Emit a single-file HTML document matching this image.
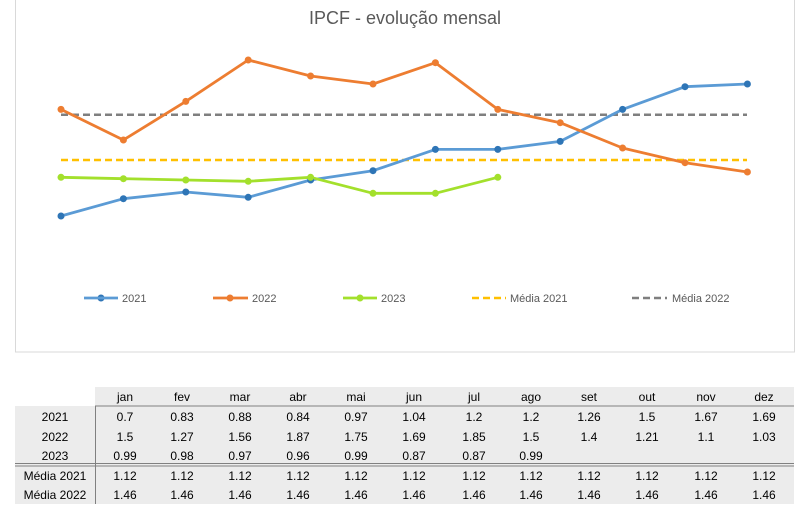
<!DOCTYPE html>
<html><head><meta charset="utf-8"><style>
body{margin:0;background:#fff;width:807px;height:514px;overflow:hidden;font-family:"Liberation Sans",sans-serif;}
</style></head><body>
<svg width="807" height="514" xmlns="http://www.w3.org/2000/svg" style="position:absolute;left:0;top:0">
<rect x="15.5" y="-1" width="779" height="353" fill="#fff" stroke="#d9d9d9"/>
<text x="405" y="24" text-anchor="middle" font-size="18" fill="#595959" font-family="Liberation Sans,sans-serif">IPCF - evolução mensal</text>
<line x1="61" y1="114.7" x2="747" y2="114.7" stroke="#7f7f7f" stroke-width="2.5" stroke-dasharray="7,4"/>
<line x1="61" y1="160" x2="747" y2="160" stroke="#ffc000" stroke-width="2.5" stroke-dasharray="7,4"/>
<g fill="none" stroke-width="2.8" stroke-linejoin="round">
<polyline stroke="#5b9bd5" points="61,216 123.4,198.7 185.8,192 248.2,197.3 310.6,180 373,170.7 435.4,149.4 497.8,149.4 560.2,141.4 622.6,109.4 685,86.7 747.4,84"/>
<polyline stroke="#ed7d31" points="61,109.4 123.4,140 185.8,101.4 248.2,60 310.6,76 373,84 435.4,62.7 497.8,109.4 560.2,122.7 622.6,148 685,162.7 747.4,172"/>
<polyline stroke="#a3e02c" points="61,177.3 123.4,178.7 185.8,180 248.2,181.3 310.6,177.3 373,193.3 435.4,193.3 497.8,177.3"/>
</g>
<g fill="#2e75b6"><circle cx="61" cy="216" r="3.5"/><circle cx="123.4" cy="198.7" r="3.5"/><circle cx="185.8" cy="192" r="3.5"/><circle cx="248.2" cy="197.3" r="3.5"/><circle cx="310.6" cy="180" r="3.5"/><circle cx="373" cy="170.7" r="3.5"/><circle cx="435.4" cy="149.4" r="3.5"/><circle cx="497.8" cy="149.4" r="3.5"/><circle cx="560.2" cy="141.4" r="3.5"/><circle cx="622.6" cy="109.4" r="3.5"/><circle cx="685" cy="86.7" r="3.5"/><circle cx="747.4" cy="84" r="3.5"/><circle cx="101" cy="298" r="3.5"/></g>
<g fill="#ed7d31"><circle cx="61" cy="109.4" r="3.5"/><circle cx="123.4" cy="140" r="3.5"/><circle cx="185.8" cy="101.4" r="3.5"/><circle cx="248.2" cy="60" r="3.5"/><circle cx="310.6" cy="76" r="3.5"/><circle cx="373" cy="84" r="3.5"/><circle cx="435.4" cy="62.7" r="3.5"/><circle cx="497.8" cy="109.4" r="3.5"/><circle cx="560.2" cy="122.7" r="3.5"/><circle cx="622.6" cy="148" r="3.5"/><circle cx="685" cy="162.7" r="3.5"/><circle cx="747.4" cy="172" r="3.5"/><circle cx="230" cy="298" r="3.5"/></g>
<g fill="#a3e02c"><circle cx="61" cy="177.3" r="3.5"/><circle cx="123.4" cy="178.7" r="3.5"/><circle cx="185.8" cy="180" r="3.5"/><circle cx="248.2" cy="181.3" r="3.5"/><circle cx="310.6" cy="177.3" r="3.5"/><circle cx="373" cy="193.3" r="3.5"/><circle cx="435.4" cy="193.3" r="3.5"/><circle cx="497.8" cy="177.3" r="3.5"/><circle cx="360" cy="298" r="3.5"/></g>
<line x1="84" y1="298" x2="118" y2="298" stroke="#5b9bd5" stroke-width="2.8"/>
<line x1="213" y1="298" x2="248" y2="298" stroke="#ed7d31" stroke-width="2.8"/>
<line x1="343" y1="298" x2="377" y2="298" stroke="#a3e02c" stroke-width="2.8"/>
<line x1="472" y1="298" x2="506" y2="298" stroke="#ffc000" stroke-width="2.5" stroke-dasharray="7,4"/>
<line x1="632" y1="298" x2="667" y2="298" stroke="#7f7f7f" stroke-width="2.5" stroke-dasharray="7,4"/>
<g font-size="11" fill="#595959" font-family="Liberation Sans,sans-serif">
<text x="122" y="302">2021</text><text x="252" y="302">2022</text><text x="381" y="302">2023</text>
<text x="510" y="302">Média 2021</text><text x="672" y="302">Média 2022</text>
</g>
<rect x="95" y="387" width="699" height="19" fill="#ececec"/>
<rect x="15" y="406" width="779" height="98" fill="#ececec"/>
<line x1="95" y1="406" x2="794" y2="406" stroke="#808080" stroke-width="1"/>
<line x1="95.5" y1="406" x2="95.5" y2="504" stroke="#808080"/>
<line x1="15" y1="463.5" x2="794" y2="463.5" stroke="#808080"/>
<line x1="15" y1="466" x2="794" y2="466" stroke="#808080"/>
<g font-size="12" fill="#000" text-anchor="middle" font-family="Liberation Sans,sans-serif">
<g transform="translate(0,401)"><text x="125">jan</text><text x="182">fev</text><text x="240">mar</text><text x="298">abr</text><text x="356">mai</text><text x="414">jun</text><text x="474">jul</text><text x="531">ago</text><text x="589">set</text><text x="647">out</text><text x="706">nov</text><text x="764">dez</text></g>
<g transform="translate(0,421)"><text x="55">2021</text><text x="125">0.7</text><text x="182">0.83</text><text x="240">0.88</text><text x="298">0.84</text><text x="356">0.97</text><text x="414">1.04</text><text x="474">1.2</text><text x="531">1.2</text><text x="589">1.26</text><text x="647">1.5</text><text x="706">1.67</text><text x="764">1.69</text></g>
<g transform="translate(0,441)"><text x="55">2022</text><text x="125">1.5</text><text x="182">1.27</text><text x="240">1.56</text><text x="298">1.87</text><text x="356">1.75</text><text x="414">1.69</text><text x="474">1.85</text><text x="531">1.5</text><text x="589">1.4</text><text x="647">1.21</text><text x="706">1.1</text><text x="764">1.03</text></g>
<g transform="translate(0,460)"><text x="55">2023</text><text x="125">0.99</text><text x="182">0.98</text><text x="240">0.97</text><text x="298">0.96</text><text x="356">0.99</text><text x="414">0.87</text><text x="474">0.87</text><text x="531">0.99</text></g>
<g transform="translate(0,480)"><text x="55">Média 2021</text><text x="125">1.12</text><text x="182">1.12</text><text x="240">1.12</text><text x="298">1.12</text><text x="356">1.12</text><text x="414">1.12</text><text x="474">1.12</text><text x="531">1.12</text><text x="589">1.12</text><text x="647">1.12</text><text x="706">1.12</text><text x="764">1.12</text></g>
<g transform="translate(0,499)"><text x="55">Média 2022</text><text x="125">1.46</text><text x="182">1.46</text><text x="240">1.46</text><text x="298">1.46</text><text x="356">1.46</text><text x="414">1.46</text><text x="474">1.46</text><text x="531">1.46</text><text x="589">1.46</text><text x="647">1.46</text><text x="706">1.46</text><text x="764">1.46</text></g>
</g>
</svg>
</body></html>
